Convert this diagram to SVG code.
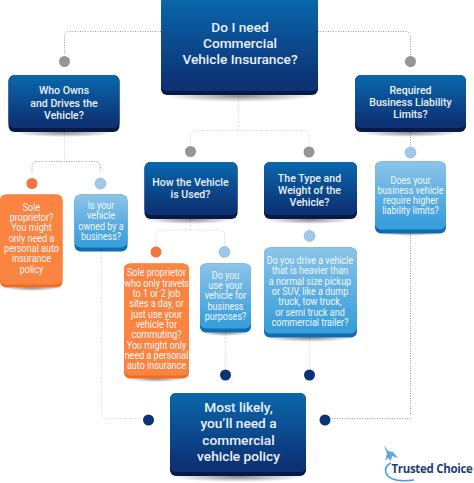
<svg xmlns="http://www.w3.org/2000/svg" width="474" height="483" viewBox="0 0 474 483">
<style>
text{font-family:Roboto,"Liberation Sans",sans-serif;text-anchor:middle;fill:#fff}
.h{font-weight:500;fill:#eaf2fa;font-size:11.5px}
.b{font-weight:500;fill:#eaf2fa;font-size:13.7px}
.t{font-size:11px;fill:#f1f7fb}
.c{fill:none;stroke:#9a9a9a;stroke-width:1;stroke-dasharray:1 1.5}
.l{fill:none;stroke:#d2d2d2;stroke-width:1;stroke-dasharray:1 1.5}
</style>
<defs>
<linearGradient id="navy" x1="0" y1="0" x2="0" y2="1"><stop offset="0" stop-color="#0a68ac"/><stop offset=".9" stop-color="#0d3276"/></linearGradient>
<linearGradient id="sky" x1="0" y1="0" x2="0" y2="1"><stop offset="0" stop-color="#8cc4e8"/><stop offset=".9" stop-color="#3b9fdc"/></linearGradient>
<radialGradient id="sh"><stop offset="0" stop-color="#000" stop-opacity=".45"/><stop offset="1" stop-color="#000" stop-opacity="0"/></radialGradient>
</defs>
<g id="connectors">
<path class="c" d="M161 31.500H70Q64.500 31.500 64.500 37V55"/>
<path class="c" d="M318 31.500H405Q410.500 31.500 410.500 37V55"/>
<path class="l" d="M64.500 132V160"/>
<path class="c" d="M32 172V167Q32 161.500 37 161.500H95Q100.500 161.500 100.500 167V172"/>
<path class="l" d="M238.500 96V130.500H196Q190.500 130.500 190.500 136V145"/>
<path class="l" d="M238.500 130.500H303Q309 130.500 309 136V146"/>
<path class="l" d="M190.500 219V230"/>
<path class="l" d="M156 247V235Q156 230 161 230H219Q224.500 230 224.500 235V247"/>
<path class="l" d="M309 219V232"/>
<path class="c" d="M410.500 132V146"/>
<path class="c" d="M410.500 233V415"/>
<path class="l" d="M101.500 252V412Q101.500 418.500 107 418.500H142"/>
<path class="l" d="M225.500 332V368"/>
<path class="l" d="M309.500 337V368"/>
<path class="c" d="M410.500 418.500H332"/>
</g>
<g id="n-root"><ellipse cx="240" cy="96" rx="75" ry="6" fill="url(#sh)"/><rect x="161" y="-3" width="157" height="98" rx="6" fill="#061a44"/><rect x="161" y="-3" width="157" height="94" rx="6" fill="url(#navy)"/>
<text class="b" x="240" y="32">Do I need</text><text class="b" x="240" y="48">Commercial</text><text class="b" x="240" y="64">Vehicle Insurance?</text></g>
<g id="n-owns"><ellipse cx="64" cy="133" rx="50" ry="4" fill="url(#sh)"/><rect x="8.500" y="75" width="111" height="57" rx="6" fill="#061a44"/><rect x="8.500" y="75" width="111" height="53" rx="6" fill="url(#navy)"/>
<g transform="translate(64 0) scale(.92 1)"><text class="h" y="94">Who Owns</text><text class="h" y="107">and Drives the</text><text class="h" y="119">Vehicle?</text></g></g>
<g id="n-limits"><ellipse cx="410" cy="133" rx="50" ry="4" fill="url(#sh)"/><rect x="355" y="75" width="111" height="57" rx="6" fill="#061a44"/><rect x="355" y="75" width="111" height="53" rx="6" fill="url(#navy)"/>
<g transform="translate(410.500 0) scale(.92 1)"><text class="h" y="94">Required</text><text class="h" y="106">Business Liability</text><text class="h" y="118">Limits?</text></g></g>
<g id="n-used"><ellipse cx="190" cy="220" rx="44" ry="4" fill="url(#sh)"/><rect x="144.500" y="162" width="93" height="57" rx="6" fill="#061a44"/><rect x="144.500" y="162" width="93" height="53" rx="6" fill="url(#navy)"/>
<g transform="translate(190.500 0) scale(.92 1)"><text class="h" y="186">How the Vehicle</text><text class="h" y="198">is Used?</text></g></g>
<g id="n-type"><ellipse cx="309" cy="220" rx="44" ry="4" fill="url(#sh)"/><rect x="264" y="162" width="93" height="57" rx="6" fill="#061a44"/><rect x="264" y="162" width="93" height="53" rx="6" fill="url(#navy)"/>
<g transform="translate(309.500 0) scale(.92 1)"><text class="h" y="182">The Type and</text><text class="h" y="194">Weight of the</text><text class="h" y="206">Vehicle?</text></g></g>
<g id="n-sole"><ellipse cx="32" cy="288" rx="28" ry="3" fill="url(#sh)"/><rect x="0" y="194.500" width="62.500" height="93" rx="6" fill="#f26c1e"/><rect x="0" y="194.500" width="62.500" height="90" rx="6" fill="#fb8440"/>
<g transform="translate(31.500 0) scale(.82 1)"><text class="t" y="211">Sole</text><text class="t" y="221">proprietor?</text><text class="t" y="231">You might</text><text class="t" y="242">only need a</text><text class="t" y="252">personal auto</text><text class="t" y="262">insurance</text><text class="t" y="273">policy</text></g></g>
<g id="n-owned"><rect x="74.500" y="194.500" width="53" height="57" rx="6" fill="#0f6cb0"/><rect x="74.500" y="194.500" width="53" height="53" rx="6" fill="url(#sky)"/>
<g transform="translate(101 0) scale(.82 1)"><text class="t" y="209">Is your</text><text class="t" y="219">vehicle</text><text class="t" y="230">owned by a</text><text class="t" y="240">business?</text></g></g>
<g id="n-higher"><ellipse cx="410" cy="233" rx="32" ry="3" fill="url(#sh)"/><rect x="375" y="161.500" width="71" height="72" rx="6" fill="#0f6cb0"/><rect x="375" y="161.500" width="71" height="68" rx="6" fill="url(#sky)"/>
<g transform="translate(410.500 0) scale(.82 1)"><text class="t" y="184">Does your</text><text class="t" y="194">business vehicle</text><text class="t" y="204">require higher</text><text class="t" y="214">liability limits?</text></g></g>
<g id="n-sole2"><ellipse cx="156" cy="379" rx="28" ry="3" fill="url(#sh)"/><rect x="124" y="263.500" width="65" height="115" rx="6" fill="#f26c1e"/><rect x="124" y="263.500" width="65" height="112" rx="6" fill="#fb8440"/>
<g transform="translate(156.500 0) scale(.82 1)"><text class="t" y="276">Sole proprietor</text><text class="t" y="287">who only travels</text><text class="t" y="297">to 1 or 2 job</text><text class="t" y="307">sites a day, or</text><text class="t" y="318">just use your</text><text class="t" y="328">vehicle for</text><text class="t" y="338">commuting?</text><text class="t" y="349">You might only</text><text class="t" y="359">need a personal</text><text class="t" y="369">auto insurance</text></g></g>
<g id="n-purposes"><ellipse cx="225" cy="333" rx="24" ry="3" fill="url(#sh)"/><rect x="200" y="263.500" width="51" height="69" rx="6" fill="#0f6cb0"/><rect x="200" y="263.500" width="51" height="65" rx="6" fill="url(#sky)"/>
<g transform="translate(225.500 0) scale(.82 1)"><text class="t" y="279">Do you</text><text class="t" y="289">use your</text><text class="t" y="299">vehicle for</text><text class="t" y="310">business</text><text class="t" y="320">purposes?</text></g></g>
<g id="n-heavy"><ellipse cx="309" cy="338" rx="44" ry="4" fill="url(#sh)"/><rect x="264" y="247.500" width="93" height="90" rx="6" fill="#0f6cb0"/><rect x="264" y="247.500" width="93" height="86" rx="6" fill="url(#sky)"/>
<g transform="translate(310 0) scale(.82 1)"><text class="t" y="264">Do you drive a vehicle</text><text class="t" y="274">that is heavier than</text><text class="t" y="285">a normal size pickup</text><text class="t" y="295">or SUV, like a dump</text><text class="t" y="305">truck, tow truck,</text><text class="t" y="316">or semi truck and</text><text class="t" y="326">commercial trailer?</text></g></g>
<g id="n-result"><ellipse cx="238" cy="477" rx="66" ry="5" fill="url(#sh)"/><rect x="170" y="393" width="136" height="83" rx="6" fill="#061a44"/><rect x="170" y="393" width="136" height="79" rx="6" fill="url(#navy)"/>
<text class="b" x="238.500" y="412">Most likely,</text><text class="b" x="238.500" y="428">you’ll need a</text><text class="b" x="238.500" y="445">commercial</text><text class="b" x="238.500" y="461">vehicle policy</text></g>
<g id="dots">
<circle cx="64.500" cy="61.500" r="5.500" fill="#959595"/><circle cx="410.500" cy="61.500" r="5.500" fill="#959595"/><circle cx="190.500" cy="151.500" r="5.500" fill="#959595"/><circle cx="309" cy="152" r="5.500" fill="#959595"/>
<circle cx="32" cy="183.500" r="5.500" fill="#f0773a"/><circle cx="100.500" cy="183.500" r="5.500" fill="#9fc8ea" stroke="#7ea6c8" stroke-width=".5"/><circle cx="410.500" cy="152.500" r="5.500" fill="#9fc8ea" stroke="#7ea6c8" stroke-width=".5"/><circle cx="309.500" cy="236" r="5.500" fill="#9fc8ea" stroke="#7ea6c8" stroke-width=".5"/>
<circle cx="156" cy="252" r="5.500" fill="#f0773a"/><circle cx="224.500" cy="252" r="5.500" fill="#9fc8ea" stroke="#7ea6c8" stroke-width=".5"/>
<circle cx="225.500" cy="375" r="5.500" fill="#0d3276"/><circle cx="309.500" cy="375" r="5.500" fill="#0d3276"/><circle cx="148.500" cy="420" r="5.500" fill="#0d3276"/><circle cx="325" cy="420" r="5.500" fill="#0d3276"/>
</g>
<g id="logo">
<path d="M391 463Q384 466 386 473Q390 483 414 480" fill="none" stroke="#3f9fd8" stroke-width="1.500"/>
<path d="M384 445l4 6 5 1 5 6-6-2-1 5-3-3-3 3 2-7z" fill="#5aa8dc"/>
<text x="432" y="473" font-size="11.500" font-weight="700" style="fill:#1f3f73;font-family:'Open Sans',sans-serif;letter-spacing:-.3px">Trusted Choice</text>
</g>
</svg>
